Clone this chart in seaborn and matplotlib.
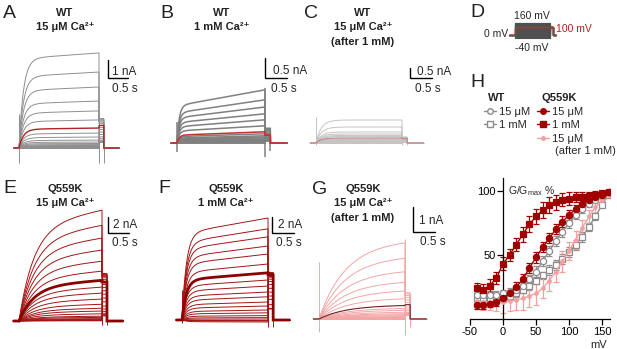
"""Ca2+ dependence of WT and Q559K currents: traces (A-G), protocol (D), G-V curves (H)."""

import numpy as np
import matplotlib
matplotlib.use("Agg")
import matplotlib.pyplot as plt
from matplotlib.lines import Line2D
import seaborn as sns

W, H = 617, 349

# test voltages (mV)
volts = [-40, -30, -20, -10, 0, 10, 20, 30, 40, 50, 60, 70, 80, 90, 100, 110, 120, 130, 140, 150, 160]

# steady-state current at end of each step (nA), -40 ... 160 mV
amp_wt_15 = [0.00, 0.01, 0.02, 0.04, 0.06, 0.08, 0.11, 0.14, 0.19, 0.25, 0.33, 0.44, 0.61, 0.83,
             1.11, 1.56, 2.06, 2.61, 3.39, 4.22, 5.28]
amp_wt_1mm = [0.00, 0.005, 0.01, 0.03, 0.04, 0.05, 0.06, 0.08, 0.09, 0.10, 0.13, 0.15, 0.18, 0.23,
              0.28, 0.43, 0.58, 0.73, 0.90, 1.08, 1.33]
amp_wt_after = [0.0, 0.005, 0.01, 0.02, 0.03, 0.04, 0.055, 0.07, 0.085, 0.10, 0.13, 0.15, 0.18, 0.20,
                0.25, 0.33, 0.38, 0.45, 0.55, 0.80, 1.15]
amp_q_15 = [0.03, 0.06, 0.12, 0.2, 0.3, 0.45, 0.6, 0.9, 1.25, 1.6, 2.1, 2.75, 3.5, 4.25,
            5.1, 6.25, 7.5, 8.9, 10.4, 12.0, 13.9]
amp_q_1mm = [-0.25, -0.12, 0.0, 0.12, 0.3, 0.55, 0.9, 1.25, 1.75, 2.25, 2.9, 3.5, 4.25, 5.0,
             5.9, 7.0, 8.25, 9.25, 10.4, 11.4, 12.75]
amp_q_after = [0.0, 0.004, 0.012, 0.024, 0.04, 0.06, 0.08, 0.10, 0.14, 0.18, 0.22, 0.28, 0.36, 0.44,
               0.56, 0.84, 1.16, 1.52, 1.96, 2.52, 3.16]

# G/Gmax (%) and SEM for panel H
g_wt_15 = [19, 19, 19, 19, 20, 21, 23, 26, 31, 37, 45, 53, 61, 68, 75, 81, 86, 90, 93, 96, 98]
e_wt_15 = [3, 3, 3, 3, 3, 3, 3, 3, 3, 4, 4, 4, 4, 4, 4, 3, 3, 3, 2, 2, 1]
g_wt_1mm = [16, 16, 16, 17, 17, 18, 20, 23, 26, 30, 34, 38, 42, 47, 52, 58, 64, 72, 80, 89, 97]
e_wt_1mm = [3, 3, 3, 3, 3, 3, 3, 3, 3, 3, 3, 4, 4, 4, 4, 4, 4, 3, 3, 2, 1]
g_q_15 = [11, 11, 12, 13, 16, 20, 25, 31, 40, 48, 56, 63, 70, 76, 81, 86, 90, 93, 95, 97, 99]
e_q_15 = [3, 3, 3, 3, 3, 3, 4, 4, 4, 4, 4, 4, 4, 4, 4, 3, 3, 3, 2, 2, 1]
g_q_1mm = [24, 23, 26, 32, 43, 50, 58, 66, 74, 80, 85, 89, 91, 93, 94, 95, 95, 96, 97, 98, 99]
e_q_1mm = [4, 4, 5, 5, 5, 5, 5, 6, 6, 6, 6, 6, 6, 5, 5, 4, 4, 3, 3, 2, 2]
g_q_after = [14, 13, 13, 13, 13, 14, 15, 16, 18, 20, 24, 30, 37, 45, 53, 62, 71, 80, 87, 93, 97]
e_q_after = [6, 6, 6, 7, 8, 8, 8, 9, 9, 9, 8, 8, 8, 8, 7, 7, 6, 5, 4, 3, 2]

GRAY = "#8c8c8c"
DKRED = "#a00000"
PINK = "#f4a0a0"

sns.set_theme(style="ticks")
plt.rcParams["font.family"] = ["Liberation Sans", "DejaVu Sans"]
plt.rcParams["mathtext.fontset"] = "custom"
plt.rcParams["mathtext.rm"] = "Liberation Sans"
plt.rcParams["mathtext.it"] = "Liberation Sans:italic"
plt.rcParams["axes.unicode_minus"] = False

fig = plt.figure(figsize=(W / 100, H / 100), dpi=100)


def ftext(x, y, s, **kw):
    fig.text(x / W, 1 - y / H, s, **kw)


T, TAIL, PRE, POST = 2.0, 0.12, 0.13, 0.38
HI = volts.index(100)

panels = [
    dict(amps=amp_wt_15, g=g_wt_15, x0=19, yb=148, pps=40, ppn=18, tau=0.11, f0=0.94,
         col="#8f8f8f", hi="#b22222", lw=0.7, hlw=1.0, tail=1.67,
         cap0=(0.83, 1.9), capT=(0.83, 1.67), capE=(0.83, 0),
         bar=(108, 78, 1, "1 nA", (112, 72), (112, 89))),
    dict(amps=amp_wt_1mm, g=g_wt_1mm, x0=177, yb=143, pps=44, ppn=40, tau=0.05, f0=0.7,
         col="#808080", hi="#c0302c", lw=1.1, hlw=1.1, tail=0.38,
         cap0=(0.22, 0.53), capT=(0.35, 1.38), capE=(0.2, 0),
         bar=(265, 78, 0.5, "0.5 nA", (273, 71), (271, 89))),
    dict(amps=amp_wt_after, g=g_wt_15, x0=316, yb=143, pps=43, ppn=20, tau=0.12, f0=1.0,
         col="#c4c4c4", hi="#c98585", lw=0.7, hlw=0.9, tail=0.3,
         cap0=(0.1, 1.3), capT=(0.1, 0.3), capE=(0.1, 0),
         bar=(410, 78, 0.5, "0.5 nA", (417, 72), (415, 89))),
    dict(amps=amp_q_15, g=g_q_15, x0=19, yb=321, pps=41.5, ppn=8, tau=0.35, f0=0.85,
         col="#a31515", hi="#8b0000", lw=0.7, hlw=2.0, tail=6.0,
         cap0=(0.1, 0), capT=(0.5, 6.0), capE=(0.5, 0),
         bar=(108, 233, 2, "2 nA", (113, 225), (112, 243))),
    dict(amps=amp_q_1mm, g=g_q_1mm, x0=182, yb=320, pps=43, ppn=8, tau=0.1, f0=0.85,
         col="#a31515", hi="#8b0000", lw=0.7, hlw=2.0, tail=6.0,
         cap0=(0.4, 3.75), capT=(0.9, 6.0), capE=(0.9, 0),
         bar=(272, 233, 2, "2 nA", (278, 225), (276, 243))),
    dict(amps=amp_q_after, g=g_q_after, x0=319, yb=319, pps=43, ppn=25, tau=0.6, f0=0.95,
         col="#f4a6a6", hi="#6b1f1f", lw=0.7, hlw=0.8, tail=1.08,
         cap0=(0.5, 2.3), capT=(0.64, 3.2), capE=(0.3, 0),
         bar=(413, 232, 1, "1 nA", (419, 221), (420, 242))),
]

t_on = np.linspace(0, T, 300)
for p in panels:
    ax = fig.add_axes([0, 0, 1, 1])
    ax.set_xlim(-p["x0"] / p["pps"], (W - p["x0"]) / p["pps"])
    ax.set_ylim((p["yb"] - H) / p["ppn"], p["yb"] / p["ppn"])
    ax.axis("off")
    ax.patch.set_alpha(0)
    order = [i for i in range(len(volts)) if i != HI] + [HI]
    for i in order:
        a = p["amps"][i]
        rise = a * (1 - np.exp(-t_on / p["tau"])) * (p["f0"] + (1 - p["f0"]) * t_on / T)
        lvl = p["tail"] * p["g"][i] / 100
        tt = np.concatenate([[-PRE], t_on, [T, T + TAIL, T + TAIL, T + TAIL + POST]])
        yy = np.concatenate([[0], rise, [lvl, lvl, 0, 0]])
        hi = i == HI
        ax.plot(tt, yy, color=p["hi"] if hi else p["col"], lw=p["hlw"] if hi else p["lw"],
                solid_joinstyle="miter", zorder=3 if hi else 2)
    for tx, (dn, up) in zip([0, T, T + TAIL], [p["cap0"], p["capT"], p["capE"]]):
        ax.vlines(tx, -dn, up, color=p["col"], lw=p["lw"], zorder=1)
    cx, cy, size, lab, pos_n, pos_s = p["bar"]
    tc = (cx - p["x0"]) / p["pps"]
    ic = (p["yb"] - cy) / p["ppn"]
    ax.plot([tc, tc, tc + 0.5], [ic + size, ic, ic], color="black", lw=1.0,
            solid_joinstyle="miter")
    ftext(*pos_n, lab, fontsize=8.5, va="center")
    ftext(*pos_s, "0.5 s", fontsize=8.5, va="center")

# titles
titles = [
    (65, ["WT", "15 μM Ca²⁺"], 13),
    (222, ["WT", "1 mM Ca²⁺"], 13),
    (363, ["WT", "15 μM Ca²⁺", "(after 1 mM)"], 13),
    (65, ["Q559K", "15 μM Ca²⁺"], 189),
    (226, ["Q559K", "1 mM Ca²⁺"], 189),
    (363, ["Q559K", "15 μM Ca²⁺", "(after 1 mM)"], 189),
]
for x, lines, y0 in titles:
    for k, s in enumerate(lines):
        ftext(x, y0 + 14.3 * k, s, fontsize=8, fontweight="bold", ha="center", va="center",
              color="#222222")

for lab, x, y in [("A", 3, 18), ("B", 160, 18), ("C", 304, 18), ("D", 470, 17),
                  ("E", 3, 193), ("F", 158, 193), ("G", 312, 194), ("H", 470, 87)]:
    ftext(x, y, lab, fontsize=14, va="baseline", color="#222222")

# D: voltage protocol
axD = fig.add_axes([0, 0, 1, 1])
d_x0, d_pps, d_y0, d_ppm = 515, 17.5, 34.7, 0.076
axD.set_xlim(-d_x0 / d_pps, (W - d_x0) / d_pps)
axD.set_ylim((d_y0 - H) / d_ppm, d_y0 / d_ppm)
axD.axis("off")
axD.patch.set_alpha(0)
d_pre, d_tail, d_post = 0.34, 0.17, 0.17
for v in volts:
    hi = v == 100
    axD.plot([-d_pre, 0, 0, T, T, T + d_tail, T + d_tail, T + d_tail + d_post],
             [0, 0, v, v, 100, 100, 0, 0],
             color="#c03030" if hi else "#505050", lw=1.0 if hi else 0.8,
             zorder=3 if hi else 2)
ftext(532, 16, "160 mV", fontsize=7.5, ha="center", va="center")
ftext(508, 34, "0 mV", fontsize=7.5, ha="right", va="center")
ftext(532, 48, "-40 mV", fontsize=7.5, ha="center", va="center")
ftext(556, 29, "100 mV", fontsize=7.5, ha="left", va="center", color="#b22222")

# H: G-V curves
axH = fig.add_axes([470 / W, 1 - 319 / H, 140 / W, 141 / H])
series = [
    (g_wt_1mm, e_wt_1mm, GRAY, "s", "white", 4.2),
    (g_wt_15, e_wt_15, GRAY, "o", "white", 4.5),
    (g_q_after, e_q_after, PINK, "o", PINK, 2.5),
    (g_q_15, e_q_15, DKRED, "o", DKRED, 4.5),
    (g_q_1mm, e_q_1mm, DKRED, "s", DKRED, 4.2),
]
for g, e, c, m, fc, ms in series:
    axH.errorbar(volts, g, yerr=e, fmt="none", ecolor=c, elinewidth=0.9, capsize=2,
                 capthick=0.9, zorder=2)
    sns.lineplot(x=volts, y=g, ax=axH, color=c, lw=1.0, marker=m, markersize=ms,
                 markerfacecolor=fc, markeredgecolor=c, markeredgewidth=0.9, zorder=3)
axH.set_xlim(-50, 162)
axH.set_ylim(0, 110)
axH.spines["left"].set_position(("data", 0))
axH.spines["top"].set_visible(False)
axH.spines["right"].set_visible(False)
for s in ["left", "bottom"]:
    axH.spines[s].set_linewidth(0.9)
    axH.spines[s].set_color("black")
axH.set_xticks([-50, 0, 50, 100, 150])
axH.set_yticks([50, 100])
axH.tick_params(direction="out", length=4, width=0.9, labelsize=8, pad=1.5, colors="black")
axH.patch.set_alpha(0)
ftext(508, 191, r"G/G$_{\rm max}$ %", fontsize=7.5, va="center")
ftext(607, 345, "mV", fontsize=8, ha="right", va="center")

# H legend
ftext(488, 98, "WT", fontsize=8, fontweight="bold", va="center", color="#222222")
ftext(542, 98, "Q559K", fontsize=8, fontweight="bold", va="center", color="#222222")
h_wt = [Line2D([], [], color=GRAY, marker="o", mfc="white", ms=4, lw=1),
        Line2D([], [], color=GRAY, marker="s", mfc="white", ms=4, lw=1)]
h_q = [Line2D([], [], color=DKRED, marker="o", ms=4, lw=1),
       Line2D([], [], color=DKRED, marker="s", ms=4, lw=1),
       Line2D([], [], color=PINK, marker="o", ms=2.5, lw=1)]
leg_kw = dict(loc="upper left", frameon=False, fontsize=8, handlelength=1.1, handletextpad=0.25,
              borderpad=0, borderaxespad=0, labelspacing=0.3)
fig.legend(h_wt, ["15 μM", "1 mM"], bbox_to_anchor=(484 / W, 1 - 107 / H), **leg_kw)
fig.legend(h_q, ["15 μM", "1 mM", "15 μM"], bbox_to_anchor=(537 / W, 1 - 107 / H), **leg_kw)
ftext(555, 151, "(after 1 mM)", fontsize=8, va="center")

fig.savefig("out.png", dpi=100)
